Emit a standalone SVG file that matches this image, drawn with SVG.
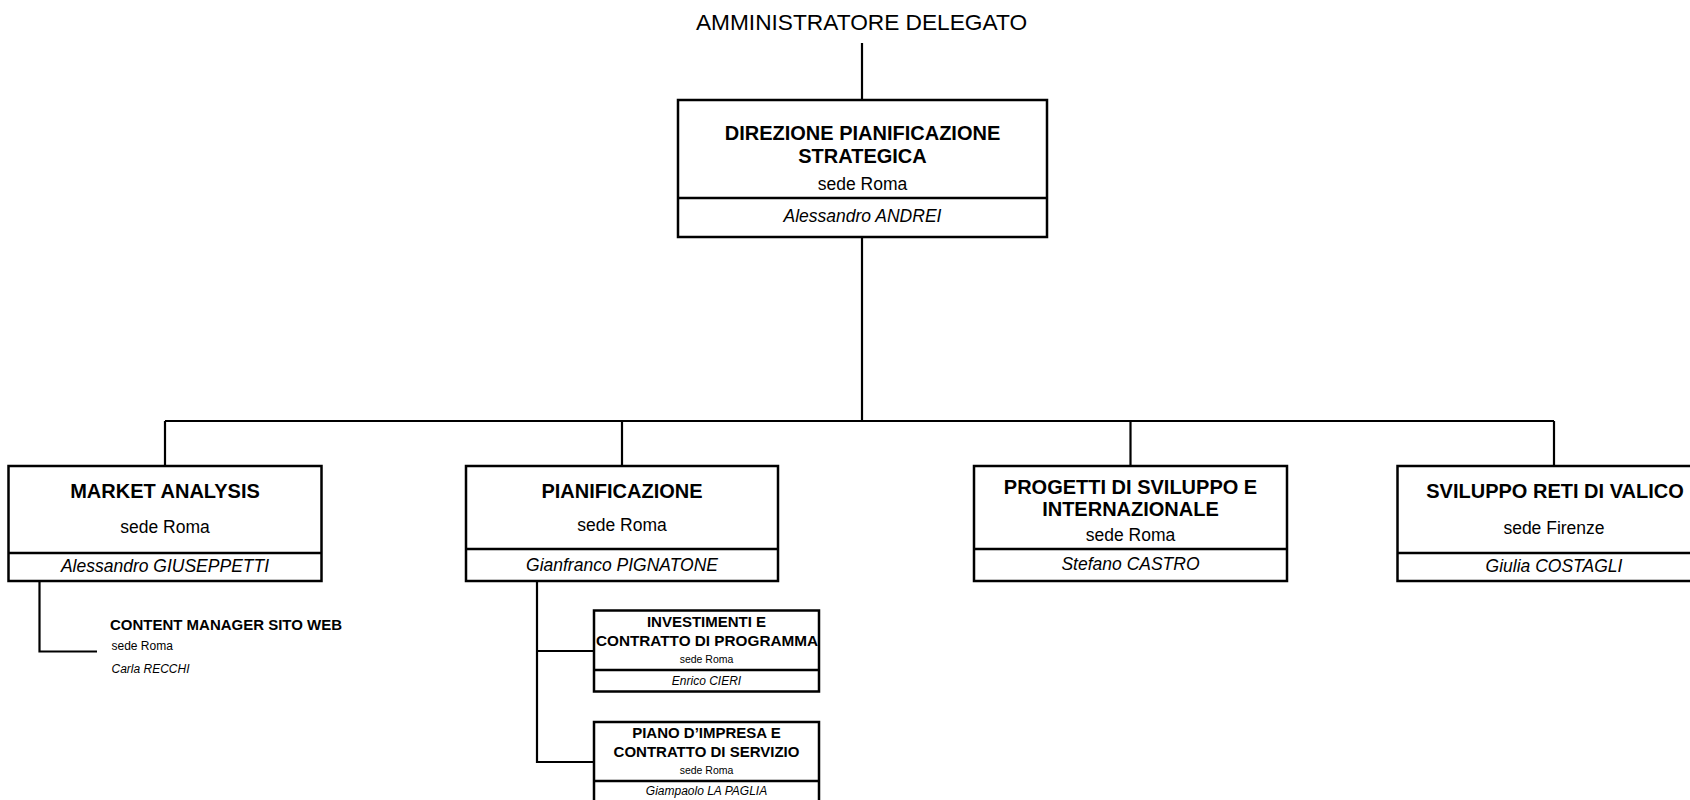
<svg xmlns="http://www.w3.org/2000/svg" width="1690" height="800" viewBox="0 0 1690 800">
<style>
text{font-family:"Liberation Sans",Arial,Helvetica,sans-serif;fill:#000}
.box{fill:#fff;stroke:#000;stroke-width:2.5}
.div{stroke:#000;stroke-width:2.5}
.con{fill:none;stroke:#000;stroke-width:2.2}
.t{font-weight:bold;font-size:20px;text-anchor:middle}
.s{font-size:17.5px;text-anchor:middle}
.n{font-size:17.5px;font-style:italic;text-anchor:middle}
.ts{font-weight:bold;font-size:15px;text-anchor:middle}
.ss{font-size:10.5px;text-anchor:middle}
.ns{font-size:12px;font-style:italic;text-anchor:middle}
</style>
<rect width="1690" height="800" fill="#fff"/>
<g id="connectors">
<path class="con" d="M862 43V100"/>
<path class="con" d="M862 237V421"/>
<path class="con" d="M165 421H1554"/>
<path class="con" d="M165 421V466M622 421V466M1130.5 421V466M1554 421V466"/>
<path class="con" d="M39.5 581V651.5H97"/>
<path class="con" d="M537 581V762H594M537 651H594"/>
</g>
<g id="top">
<text x="861.5" y="30" style="font-size:22.7px;text-anchor:middle">AMMINISTRATORE DELEGATO</text>
</g>
<g id="direzione">
<rect class="box" x="678" y="100" width="369" height="137"/>
<line class="div" x1="678" y1="198" x2="1047" y2="198"/>
<text class="t" x="862.5" y="140">DIREZIONE PIANIFICAZIONE</text>
<text class="t" x="862.5" y="163">STRATEGICA</text>
<text class="s" x="862.5" y="190">sede Roma</text>
<text class="n" x="862.5" y="222">Alessandro ANDREI</text>
</g>
<g id="market">
<rect class="box" x="8.5" y="466" width="313" height="115"/>
<line class="div" x1="8.5" y1="553" x2="321.5" y2="553"/>
<text class="t" x="165" y="498">MARKET ANALYSIS</text>
<text class="s" x="165" y="533">sede Roma</text>
<text class="n" x="165" y="571.5">Alessandro GIUSEPPETTI</text>
</g>
<g id="pianificazione">
<rect class="box" x="466" y="466" width="312" height="115"/>
<line class="div" x1="466" y1="549" x2="778" y2="549"/>
<text class="t" x="622" y="497.5">PIANIFICAZIONE</text>
<text class="s" x="622" y="531">sede Roma</text>
<text class="n" x="622" y="570.5">Gianfranco PIGNATONE</text>
</g>
<g id="progetti">
<rect class="box" x="974" y="466" width="313" height="115"/>
<line class="div" x1="974" y1="549" x2="1287" y2="549"/>
<text class="t" x="1130.5" y="493.5">PROGETTI DI SVILUPPO E</text>
<text class="t" x="1130.5" y="515.5">INTERNAZIONALE</text>
<text class="s" x="1130.5" y="540.5">sede Roma</text>
<text class="n" x="1130.5" y="570">Stefano CASTRO</text>
</g>
<g id="sviluppo">
<rect class="box" x="1397.5" y="466" width="314" height="115"/>
<line class="div" x1="1397.5" y1="553" x2="1711" y2="553"/>
<text class="t" x="1555" y="497.5">SVILUPPO RETI DI VALICO</text>
<text class="s" x="1554" y="533.5">sede Firenze</text>
<text class="n" x="1554" y="571.5">Giulia COSTAGLI</text>
</g>
<g id="content-manager">
<text x="110" y="630" style="font-weight:bold;font-size:14.5px" textLength="232" lengthAdjust="spacingAndGlyphs">CONTENT MANAGER SITO WEB</text>
<text x="111.5" y="650" style="font-size:12px">sede Roma</text>
<text x="111.5" y="673" style="font-size:12px;font-style:italic">Carla RECCHI</text>
</g>
<g id="investimenti">
<rect class="box" x="594" y="610.5" width="225" height="81"/>
<line class="div" x1="594" y1="670" x2="819" y2="670"/>
<text class="ts" x="706.5" y="626.5">INVESTIMENTI E</text>
<text class="ts" x="707" y="646" textLength="222" lengthAdjust="spacingAndGlyphs">CONTRATTO DI PROGRAMMA</text>
<text class="ss" x="706.5" y="662.5">sede Roma</text>
<text class="ns" x="706.5" y="685">Enrico CIERI</text>
</g>
<g id="piano">
<rect class="box" x="594" y="722" width="225" height="82"/>
<line class="div" x1="594" y1="781" x2="819" y2="781"/>
<text class="ts" x="706.5" y="737.5">PIANO D’IMPRESA E</text>
<text class="ts" x="706.5" y="756.5">CONTRATTO DI SERVIZIO</text>
<text class="ss" x="706.5" y="774">sede Roma</text>
<text class="ns" x="706.5" y="794.5">Giampaolo LA PAGLIA</text>
</g>
</svg>
